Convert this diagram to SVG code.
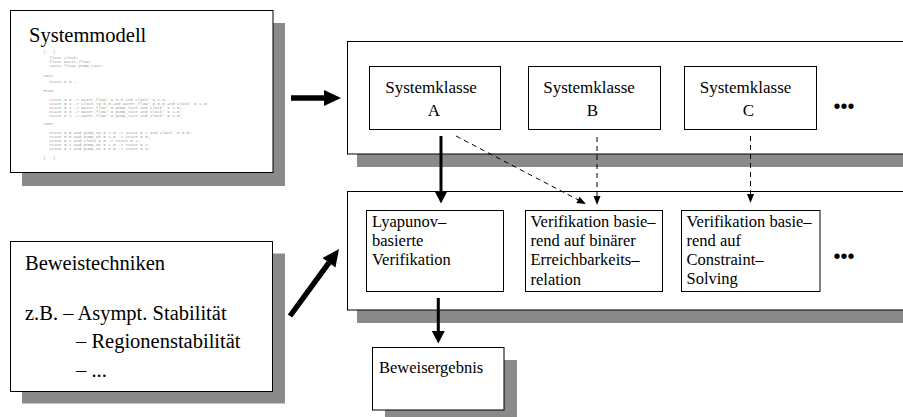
<svg xmlns="http://www.w3.org/2000/svg" width="903" height="417" viewBox="0 0 903 417">
<defs>
<style>
.shadow{fill:#8a8a88;stroke:none}
.box{fill:#fff;stroke:#000;stroke-width:1}
.t{font-family:"Liberation Serif","Times New Roman",serif;fill:#000}
.big{font-size:20.5px}
.mid{font-size:17px}
.sm{font-size:16.5px}
.code{font-family:"Liberation Mono","Courier New",monospace;font-size:4.1px;fill:#9a9a9a;white-space:pre}
.dots{font-family:"Liberation Sans",Arial,sans-serif;font-size:20px;fill:#000}
.thick{stroke:#000;stroke-width:5.5;fill:none}
.solid{stroke:#000;stroke-width:3;fill:none}
.dash{stroke:#000;stroke-width:1;fill:none;stroke-dasharray:5 4}
</style>
<marker id="bigHead" markerUnits="userSpaceOnUse" markerWidth="17" markerHeight="16" refX="0" refY="8" orient="auto" overflow="visible">
<path d="M0,0 L17,8 L0,16 z" fill="#000"/>
</marker>
<marker id="midHead" markerUnits="userSpaceOnUse" markerWidth="13" markerHeight="13" refX="0" refY="6.5" orient="auto" overflow="visible">
<path d="M0,0 L12.5,6.5 L0,13 z" fill="#000"/>
</marker>
<marker id="smallHead" markerUnits="userSpaceOnUse" markerWidth="9" markerHeight="7" refX="0" refY="3.5" orient="auto" overflow="visible">
<path d="M0,0 L9,3.5 L0,7 z" fill="#000"/>
</marker>
</defs>

<g id="systemmodell">
<rect class="shadow" x="22" y="23" width="263" height="163"/>
<rect class="box" x="10.5" y="10.5" width="262.5" height="162"/>
<text class="t big" x="29" y="41.7">Systemmodell</text>
<text class="code" x="43.3" y="52.5">[...]</text>
<text class="code" x="49.3" y="58.5">float clock;</text>
<text class="code" x="49.3" y="62.5">float water_flow;</text>
<text class="code" x="49.3" y="66.5">const float pump_rate;</text>
<text class="code" x="43.3" y="76.5">INIT</text>
<text class="code" x="49.3" y="83">state = 0 ;</text>
<text class="code" x="43.3" y="91.5">FLOW</text>
<text class="code" x="49.3" y="100.5">state = 0 -&gt; water_flow' = 0.0 and clock' = 1.0;</text>
<text class="code" x="49.3" y="104.5">state = 1 -&gt; clock &lt;= 5.0 and water_flow' = 0.0 and clock' = 1.0;</text>
<text class="code" x="49.3" y="108.5">state = 2 -&gt; water_flow' = pump_rate and clock' = 1.0;</text>
<text class="code" x="49.3" y="112.5">state = 3 -&gt; water_flow' = pump_rate and clock' = 1.0;</text>
<text class="code" x="49.3" y="116.5">state = 4 -&gt; water_flow' = pump_rate and clock' = 1.0;</text>
<text class="code" x="43.3" y="124.5">JUMP</text>
<text class="code" x="49.3" y="134">state = 0 and pump_on = 1.0 -&gt; state = 1 and clock' = 0.0;</text>
<text class="code" x="49.3" y="138">state = 0 and pump_ok = 1.0 -&gt; state = 0;</text>
<text class="code" x="49.3" y="142">state = 1 and clock = 5 -&gt; state = 2;</text>
<text class="code" x="49.3" y="146">state = 1 and pump_ok = 1.0 -&gt; state = 1;</text>
<text class="code" x="49.3" y="150">state = 1 and pump_ok = 0.0 -&gt; state = 3;</text>
<text class="code" x="43.3" y="158.5">[...]</text>
</g>

<g id="beweistechniken">
<rect class="shadow" x="22" y="253.5" width="263" height="150"/>
<rect class="box" x="10.5" y="241.5" width="262" height="150"/>
<text class="t big" x="25" y="270">Beweistechniken</text>
<text class="t big" x="25" y="320">z.B. – Asympt. Stabilität</text>
<text class="t big" x="76" y="348.3">– Regionenstabilität</text>
<text class="t big" x="76" y="376.7">– ...</text>
</g>

<g id="klassen-container">
<rect class="shadow" x="357" y="54" width="560" height="113"/>
<rect class="box" x="347.5" y="41.5" width="570" height="112.5"/>
</g>

<g id="verifikation-container">
<rect class="shadow" x="357" y="204" width="560" height="119"/>
<rect class="box" x="347.5" y="191.5" width="570" height="118.5"/>
</g>

<g id="klasseA">
<rect class="box" x="369.5" y="66.5" width="131" height="63"/>
<text class="t mid" x="431" y="93.3" text-anchor="middle">Systemklasse</text>
<text class="t mid" x="434" y="116" text-anchor="middle">A</text>
</g>
<g id="klasseB">
<rect class="box" x="528.5" y="66.5" width="132" height="63"/>
<text class="t mid" x="589" y="93.3" text-anchor="middle">Systemklasse</text>
<text class="t mid" x="592.5" y="116" text-anchor="middle">B</text>
</g>
<g id="klasseC">
<rect class="box" x="684.5" y="66.5" width="132" height="63"/>
<text class="t mid" x="745.5" y="93.3" text-anchor="middle">Systemklasse</text>
<text class="t mid" x="748.5" y="116" text-anchor="middle">C</text>
</g>
<g id="klassen-mehr">
<text class="dots" x="833.5" y="113">•••</text>
</g>

<g id="lyapunov">
<rect class="box" x="366.5" y="210.5" width="137" height="81"/>
<text class="t sm" x="372" y="227">Lyapunov–</text>
<text class="t sm" x="372" y="246">basierte</text>
<text class="t sm" x="372" y="265">Verifikation</text>
</g>
<g id="erreichbarkeit">
<rect class="box" x="525.5" y="210.5" width="137" height="81"/>
<text class="t sm" x="530.5" y="227">Verifikation basie–</text>
<text class="t sm" x="530.5" y="246">rend auf binärer</text>
<text class="t sm" x="530.5" y="265">Erreichbarkeits–</text>
<text class="t sm" x="530.5" y="285">relation</text>
</g>
<g id="constraint">
<rect class="box" x="681.5" y="210.5" width="138.5" height="81"/>
<text class="t sm" x="686.5" y="227">Verifikation basie–</text>
<text class="t sm" x="686.5" y="246">rend auf</text>
<text class="t sm" x="686.5" y="265">Constraint–</text>
<text class="t sm" x="686.5" y="284">Solving</text>
</g>
<g id="verifikation-mehr">
<text class="dots" x="833.5" y="263">•••</text>
</g>

<g id="beweisergebnis">
<rect class="shadow" x="385" y="360" width="132" height="57"/>
<rect class="box" x="372.5" y="347.5" width="131.5" height="62.5"/>
<text class="t sm" x="379" y="372.7">Beweisergebnis</text>
</g>

<g id="connectors">
<line class="thick" x1="291" y1="98" x2="324" y2="98" marker-end="url(#bigHead)"/>
<line class="thick" x1="290" y1="316" x2="329" y2="262.7" marker-end="url(#bigHead)"/>
<line class="solid" x1="441" y1="136" x2="441" y2="191" marker-end="url(#midHead)"/>
<line class="solid" x1="438.3" y1="298" x2="438.3" y2="331" marker-end="url(#midHead)"/>
<line class="dash" x1="456" y1="136" x2="578" y2="199.8" marker-end="url(#smallHead)"/>
<line class="dash" x1="597" y1="137" x2="597" y2="196" marker-end="url(#smallHead)"/>
<line class="dash" x1="750.5" y1="136" x2="750.5" y2="194" marker-end="url(#smallHead)"/>
</g>
</svg>
